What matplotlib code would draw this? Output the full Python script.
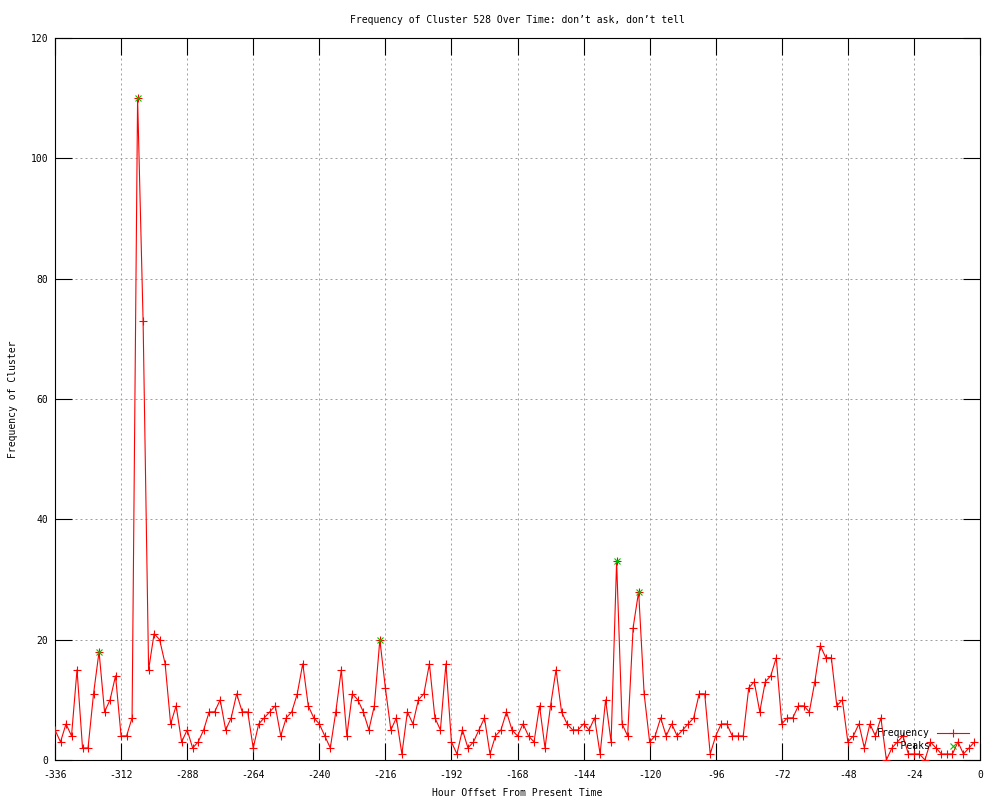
import numpy as np
import matplotlib
matplotlib.use("Agg")
import matplotlib.pyplot as plt

# ---- data ----
hours = list(range(-336, 0, 2))
frequency = [
    5, 3, 6, 4, 15, 2, 2, 11, 18, 8, 10, 14, 4, 4, 7, 110, 73, 15, 21, 20,
    16, 6, 9, 3, 5, 2, 3, 5, 8, 8, 10, 5, 7, 11, 8, 8, 2, 6, 7, 8,
    9, 4, 7, 8, 11, 16, 9, 7, 6, 4, 2, 8, 15, 4, 11, 10, 8, 5, 9, 20,
    12, 5, 7, 1, 8, 6, 10, 11, 16, 7, 5, 16, 3, 1, 5, 2, 3, 5, 7, 1,
    4, 5, 8, 5, 4, 6, 4, 3, 9, 2, 9, 15, 8, 6, 5, 5, 6, 5, 7, 1,
    10, 3, 33, 6, 4, 22, 28, 11, 3, 4, 7, 4, 6, 4, 5, 6, 7, 11, 11, 1,
    4, 6, 6, 4, 4, 4, 12, 13, 8, 13, 14, 17, 6, 7, 7, 9, 9, 8, 13, 19,
    17, 17, 9, 10, 3, 4, 6, 2, 6, 4, 7, 0, 2, 3, 4, 1, 1, 1, 0, 3,
    2, 1, 1, 1, 3, 1, 2, 3,
]
peak_hours = [-320, -306, -218, -132, -124]
peak_values = [18, 110, 20, 33, 28]

x_ticks = [-336, -312, -288, -264, -240, -216, -192, -168, -144, -120, -96, -72, -48, -24, 0]
y_ticks = [0, 20, 40, 60, 80, 100, 120]

title = "Frequency of Cluster 528 Over Time: don\u2019t ask, don\u2019t tell"
xlabel = "Hour Offset From Present Time"
ylabel = "Frequency of Cluster"

# ---- style ----
plt.rcParams['font.family'] = ['DejaVu Sans Mono', 'DejaVu Sans']
plt.rcParams['font.size'] = 7
plt.rcParams['axes.unicode_minus'] = False

fig = plt.figure(figsize=(10, 8), dpi=100)
ax = fig.add_axes([0.055, 0.05, 0.925, 0.9025])

ax.plot(hours, frequency, color='#ff0000', lw=0.8, marker='+', ms=6, mew=0.8,
        label='Frequency', zorder=3)
ax.plot(peak_hours, peak_values, linestyle='none', color='#00c000', marker='x',
        ms=5, mew=0.8, label='    Peaks', zorder=4)

ax.set_xlim(-336, 0)
ax.set_ylim(0, 120)
ax.set_xticks(x_ticks)
ax.set_yticks(y_ticks)

ax.grid(True, color='#a0a0a0', linestyle=(0, (2, 3)), linewidth=0.72)
ax.set_axisbelow(True)

ax.tick_params(direction='in', length=12, width=0.8, top=True, right=True,
               labelsize=7, color='black')
ax.tick_params(axis='y', pad=5)
ax.tick_params(axis='x', pad=7)
for sp in ax.spines.values():
    sp.set_linewidth(0.8)
    sp.set_color('black')

ax.set_title(title, fontsize=7, pad=11)
ax.set_xlabel(xlabel, fontsize=7, labelpad=6)
ax.set_ylabel(ylabel, fontsize=7, labelpad=9)

leg = ax.legend(loc='lower right', bbox_to_anchor=(0.988, 0.012), frameon=False,
                markerfirst=False, handlelength=3.3, handletextpad=0.7,
                labelspacing=0.3, borderpad=0, borderaxespad=0, fontsize=7)

fig.savefig('out.png', dpi=100)
